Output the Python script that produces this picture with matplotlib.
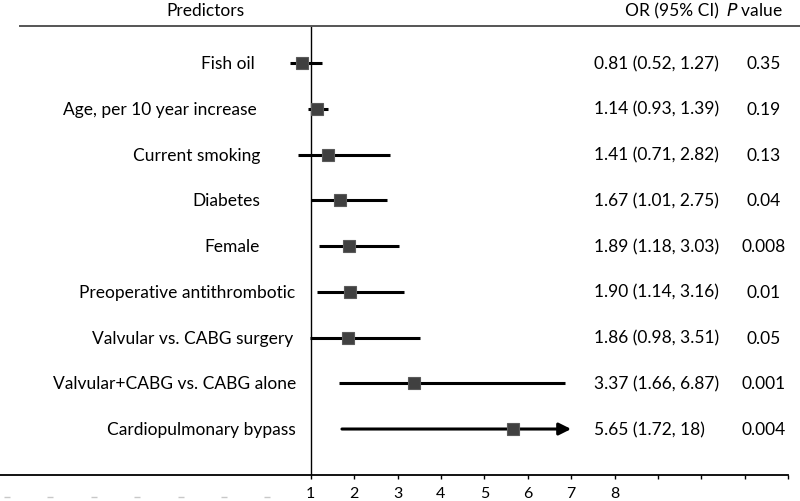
import matplotlib
matplotlib.use('Agg')
import matplotlib.pyplot as plt
import matplotlib.transforms as mtransforms

plt.rcParams['font.family'] = ['Lato', 'DejaVu Sans']

# data
predictors = ['Fish oil', 'Age, per 10 year increase', 'Current smoking', 'Diabetes', 'Female',
              'Preoperative antithrombotic', 'Valvular vs. CABG surgery',
              'Valvular+CABG vs. CABG alone', 'Cardiopulmonary bypass']
odds_ratio = [0.81, 1.14, 1.41, 1.67, 1.89, 1.90, 1.86, 3.37, 5.65]
ci_low = [0.52, 0.93, 0.71, 1.01, 1.18, 1.14, 0.98, 1.66, 1.72]
ci_high = [1.27, 1.39, 2.82, 2.75, 3.03, 3.16, 3.51, 6.87, 18]
ci_text = ['0.81 (0.52, 1.27)', '1.14 (0.93, 1.39)', '1.41 (0.71, 2.82)', '1.67 (1.01, 2.75)',
           '1.89 (1.18, 3.03)', '1.90 (1.14, 3.16)', '1.86 (0.98, 3.51)', '3.37 (1.66, 6.87)',
           '5.65 (1.72, 18)']
p_text = ['0.35', '0.19', '0.13', '0.04', '0.008', '0.01', '0.05', '0.001', '0.004']
tick_values = list(range(1, 13))
tick_labels = ['1', '2', '3', '4', '5', '6', '7', '8', '', '', '', '']
hidden_ticks = list(range(-6, 1))
x_cap = 7.0  # CIs wider than this get an arrow

# layout (pixels of the 800x502 picture)
W, H = 800, 502
FS = 12.5
label_right = [255, 257, 260, 260, 260, 295, 293, 296, 296]

fig = plt.figure(figsize=(8, 5.02), dpi=100)
ax = fig.add_axes([0, 26 / H, 1, 476 / H])
ax.set_xlim(-6.159, 12.274)
ax.set_ylim(9.005, -1.399)

rows = list(range(len(predictors)))
trans_lbl = mtransforms.blended_transform_factory(fig.transFigure, ax.transData)

for i in rows:
    hi = ci_high[i]
    if hi > x_cap:
        ax.annotate('', xy=(x_cap, i), xytext=(ci_low[i], i),
                    arrowprops=dict(arrowstyle='-|>,head_length=0.6,head_width=0.3',
                                    color='black', lw=2.2, mutation_scale=12,
                                    shrinkA=0, shrinkB=0))
    else:
        ax.plot([ci_low[i], hi], [i, i], color='black', lw=2.2, solid_capstyle='butt', zorder=2)
    ax.plot(odds_ratio[i], i, marker='s', ms=8, color='#404040',
            markeredgecolor='#5a5a5a', markeredgewidth=0.8, zorder=3)

    ax.text(label_right[i] / W, i, predictors[i], transform=trans_lbl,
            ha='right', va='center', fontsize=FS)
    ax.text(594 / W, i, ci_text[i], transform=trans_lbl,
            ha='left', va='center', fontsize=FS)
    ax.text(764 / W, i, p_text[i], transform=trans_lbl,
            ha='center', va='center', fontsize=FS)

# reference line at OR = 1 and header rule
ax.vlines(1, -0.802, 9.005, color='black', lw=1.0)
ax.axhline(-0.802, xmin=20 / W, xmax=1, color='#555555', lw=1.4)

# headers
fig.text(205 / W, 1 - 11 / H, 'Predictors', ha='center', va='center', fontsize=FS)
fig.text(672 / W, 1 - 11 / H, 'OR (95% CI)', ha='center', va='center', fontsize=FS)
fig.text(754 / W, 1 - 11 / H, r'$\it{P}$ value', ha='center', va='center', fontsize=FS)

# x axis
for s in ['top', 'left', 'right']:
    ax.spines[s].set_visible(False)
ax.spines['bottom'].set_bounds(-6.159, 12.0)
ax.spines['bottom'].set_linewidth(1.3)
ax.set_yticks([])
ax.set_xticks(tick_values)
ax.set_xticklabels(tick_labels, fontsize=11.5)
ax.tick_params(axis='x', length=3, width=1, direction='out', pad=5)

# faint leftovers of the negative tick labels
trans_tick = mtransforms.blended_transform_factory(ax.transData, fig.transFigure)
ax.plot(hidden_ticks, [1 - 498 / H] * len(hidden_ticks), transform=trans_tick,
        linestyle='none', marker='_', ms=4, mew=1, color='#c8c8c8', clip_on=False)

fig.savefig('out.png', dpi=100, facecolor='white')
